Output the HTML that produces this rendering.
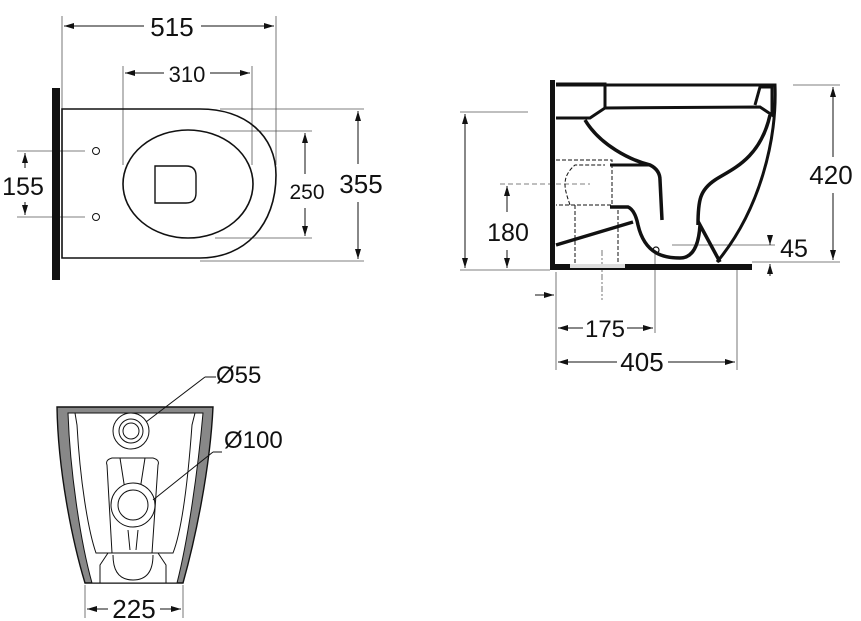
<!DOCTYPE html>
<html><head><style>
html,body{margin:0;padding:0;background:#fff}
svg{display:block}
text{font-family:"Liberation Sans",Arial,sans-serif;fill:#111}
</style></head><body>
<svg width="861" height="621" viewBox="0 0 861 621" xmlns="http://www.w3.org/2000/svg">
<defs>
<marker id="a" viewBox="0 0 10 6" refX="10" refY="3" markerWidth="10" markerHeight="6" orient="auto-start-reverse" markerUnits="userSpaceOnUse"><path d="M0,0 L10,3 L0,6 z" fill="#111"/></marker>
</defs>
<g stroke="#555" stroke-width="0.8" fill="none">
<line x1="62" y1="16" x2="62" y2="109"/><line x1="276" y1="16" x2="276" y2="165"/>
<line x1="123" y1="66" x2="123" y2="165"/><line x1="252" y1="66" x2="252" y2="165"/>
<line x1="17" y1="151" x2="85" y2="151"/><line x1="17" y1="217" x2="85" y2="217"/>
<line x1="220" y1="131" x2="312" y2="131"/><line x1="215" y1="238" x2="312" y2="238"/>
<line x1="220" y1="109" x2="364" y2="109"/><line x1="200" y1="261" x2="364" y2="261"/>
<line x1="460" y1="112" x2="528" y2="112"/><line x1="460" y1="270" x2="550" y2="270"/>
<line x1="500" y1="184" x2="590" y2="184" stroke-dasharray="5,3"/>
<line x1="793" y1="85" x2="840" y2="85"/><line x1="752" y1="262" x2="840" y2="262"/>
<line x1="672" y1="245" x2="775" y2="245"/>
<line x1="556" y1="272" x2="556" y2="370"/><line x1="655" y1="252" x2="655" y2="333"/><line x1="737" y1="270" x2="737" y2="370"/>
<line x1="602" y1="250" x2="602" y2="300" stroke-dasharray="6,2,2,2"/>
<line x1="85" y1="585" x2="85" y2="618"/><line x1="183" y1="585" x2="183" y2="618"/>
</g>
<g stroke="#111" stroke-width="1" fill="none">
<line x1="64" y1="26" x2="144" y2="26" marker-start="url(#a)"/><line x1="201" y1="26" x2="274" y2="26" marker-end="url(#a)"/>
<line x1="125" y1="73" x2="164" y2="73" marker-start="url(#a)"/><line x1="210" y1="73" x2="250" y2="73" marker-end="url(#a)"/>
<line x1="25" y1="153" x2="25" y2="168" marker-start="url(#a)"/><line x1="25" y1="202" x2="25" y2="215" marker-end="url(#a)"/>
<line x1="305" y1="133" x2="305" y2="174" marker-start="url(#a)"/><line x1="305" y1="208" x2="305" y2="236" marker-end="url(#a)"/>
<line x1="358" y1="111" x2="358" y2="164" marker-start="url(#a)"/><line x1="358" y1="202" x2="358" y2="259" marker-end="url(#a)"/>
<line x1="465" y1="114" x2="465" y2="268" marker-start="url(#a)" marker-end="url(#a)"/>
<line x1="507" y1="186" x2="507" y2="212" marker-start="url(#a)"/><line x1="507" y1="250" x2="507" y2="268" marker-end="url(#a)"/>
<line x1="833" y1="87" x2="833" y2="157" marker-start="url(#a)"/><line x1="833" y1="193" x2="833" y2="260" marker-end="url(#a)"/>
<line x1="770" y1="236" x2="770" y2="245" marker-end="url(#a)"/><line x1="770" y1="276" x2="770" y2="264" marker-end="url(#a)"/>
<line x1="535" y1="295" x2="554" y2="295" marker-end="url(#a)"/>
<line x1="558" y1="328" x2="583" y2="328" marker-start="url(#a)"/><line x1="627" y1="328" x2="653" y2="328" marker-end="url(#a)"/>
<line x1="558" y1="362" x2="617" y2="362" marker-start="url(#a)"/><line x1="668" y1="362" x2="735" y2="362" marker-end="url(#a)"/>
<line x1="87" y1="609" x2="108" y2="609" marker-start="url(#a)"/><line x1="160" y1="609" x2="181" y2="609" marker-end="url(#a)"/>
</g>
<rect x="52" y="88" width="8" height="192" fill="#111"/>
<path d="M62,109 H200 C245,109 276,135 276,175 C276,225 245,258 200,258 H62 Z" fill="none" stroke="#111" stroke-width="1.6"/>
<ellipse cx="188" cy="184" rx="65" ry="54" fill="none" stroke="#111" stroke-width="1.6"/>
<path d="M155,166 H186 Q196,166 196,176 V193 Q196,203 186,203 H155 Z" fill="none" stroke="#111" stroke-width="1.4"/>
<circle cx="96" cy="151" r="3.5" fill="none" stroke="#111"/><circle cx="96" cy="217" r="3.5" fill="none" stroke="#111"/>
<rect x="550" y="80" width="5" height="190" fill="#111"/>
<rect x="550" y="264" width="202" height="6" fill="#111"/>
<rect x="570" y="264" width="55" height="4" fill="#ddd"/>
<g fill="none" stroke="#111">
<path d="M556,85 H775 C777,140 760,210 717,262" stroke-width="3"/>
<path d="M556,84 H605 V108 L590,118 L556,118" stroke-width="3"/>
<path d="M605,108 L760,107 L772,115 V87 L760,87 L755,105" stroke-width="3"/>
<path d="M585,120 C600,145 630,160 650,165 Q660,170 660,180 L662,220" stroke-width="3.5"/>
<path d="M770,115 C760,160 730,170 715,180 C700,190 698,200 698,225" stroke-width="3.5"/>
<path d="M610,165 H650" stroke-width="3"/>
<path d="M610,207 H628 Q635,210 638,225 C645,255 665,258 680,258 Q698,258 700,225 L720,262" stroke-width="3.5"/>
<path d="M556,245 L633,222" stroke-width="3.5"/>
<path d="M556,160 H612 V205 H556 M570,205 C565,190 560,178 575,165 H605 M575,205 V264 M618,210 V264" stroke-width="1" stroke-dasharray="4,2"/>
<circle cx="656" cy="250" r="3" stroke-width="1.2"/>
</g>
<path d="M57,407 H213 C210,470 195,540 183,583 H85 C72,540 58,470 57,407 Z" fill="#888" stroke="#111" stroke-width="1.4"/>
<path d="M68,413 H203 C198,470 188,540 177,583 H92 C80,540 70,470 68,413 Z" fill="#fff" stroke="#111" stroke-width="1"/>
<path d="M75,413 H195 L192,425 C188,480 182,530 173,553 H96 C88,530 80,480 77,425 Z" fill="none" stroke="#111" stroke-width="1"/>
<path d="M107,465 Q105,460 112,458 H153 Q160,460 158,465 L152,553 H112 Z" fill="none" stroke="#111" stroke-width="1"/>
<path d="M120,458 L125,490 M145,458 L140,490 M128,530 L130,550 M138,530 L136,550" stroke="#111" stroke-width="1"/>
<path d="M100,583 V565 L108,553 H158 L166,565 V583" fill="none" stroke="#111" stroke-width="1"/>
<path d="M113,555 Q113,580 133,580 Q153,580 153,555" fill="none" stroke="#111" stroke-width="1"/>
<circle cx="131" cy="431" r="18" fill="#fff" stroke="#111"/><circle cx="131" cy="431" r="12" fill="none" stroke="#111"/><circle cx="131" cy="431" r="8" fill="none" stroke="#111"/>
<circle cx="133" cy="505" r="22" fill="#fff" stroke="#111"/><circle cx="133" cy="505" r="15" fill="none" stroke="#111"/>
<g stroke="#111" stroke-width="1">
<line x1="146" y1="422" x2="205" y2="377"/><line x1="205" y1="377" x2="216" y2="377"/>
<line x1="153" y1="500" x2="213" y2="452"/><line x1="213" y1="452" x2="222" y2="452"/>
</g>
<text x="172" y="36" font-size="26" text-anchor="middle">515</text>
<text x="187" y="82" font-size="22" text-anchor="middle">310</text>
<text x="23" y="195" font-size="25" text-anchor="middle">155</text>
<text x="307" y="199" font-size="21" text-anchor="middle">250</text>
<text x="361" y="193" font-size="26" text-anchor="middle">355</text>
<text x="508" y="241" font-size="25" text-anchor="middle">180</text>
<text x="831" y="184" font-size="26" text-anchor="middle">420</text>
<text x="794" y="257" font-size="25" text-anchor="middle">45</text>
<text x="605" y="337" font-size="24" text-anchor="middle">175</text>
<text x="642" y="371" font-size="26" text-anchor="middle">405</text>
<text x="216" y="383" font-size="24">Ø55</text>
<text x="224" y="448" font-size="24">Ø100</text>
<text x="134" y="618" font-size="26" text-anchor="middle">225</text>
</svg>
</body></html>
